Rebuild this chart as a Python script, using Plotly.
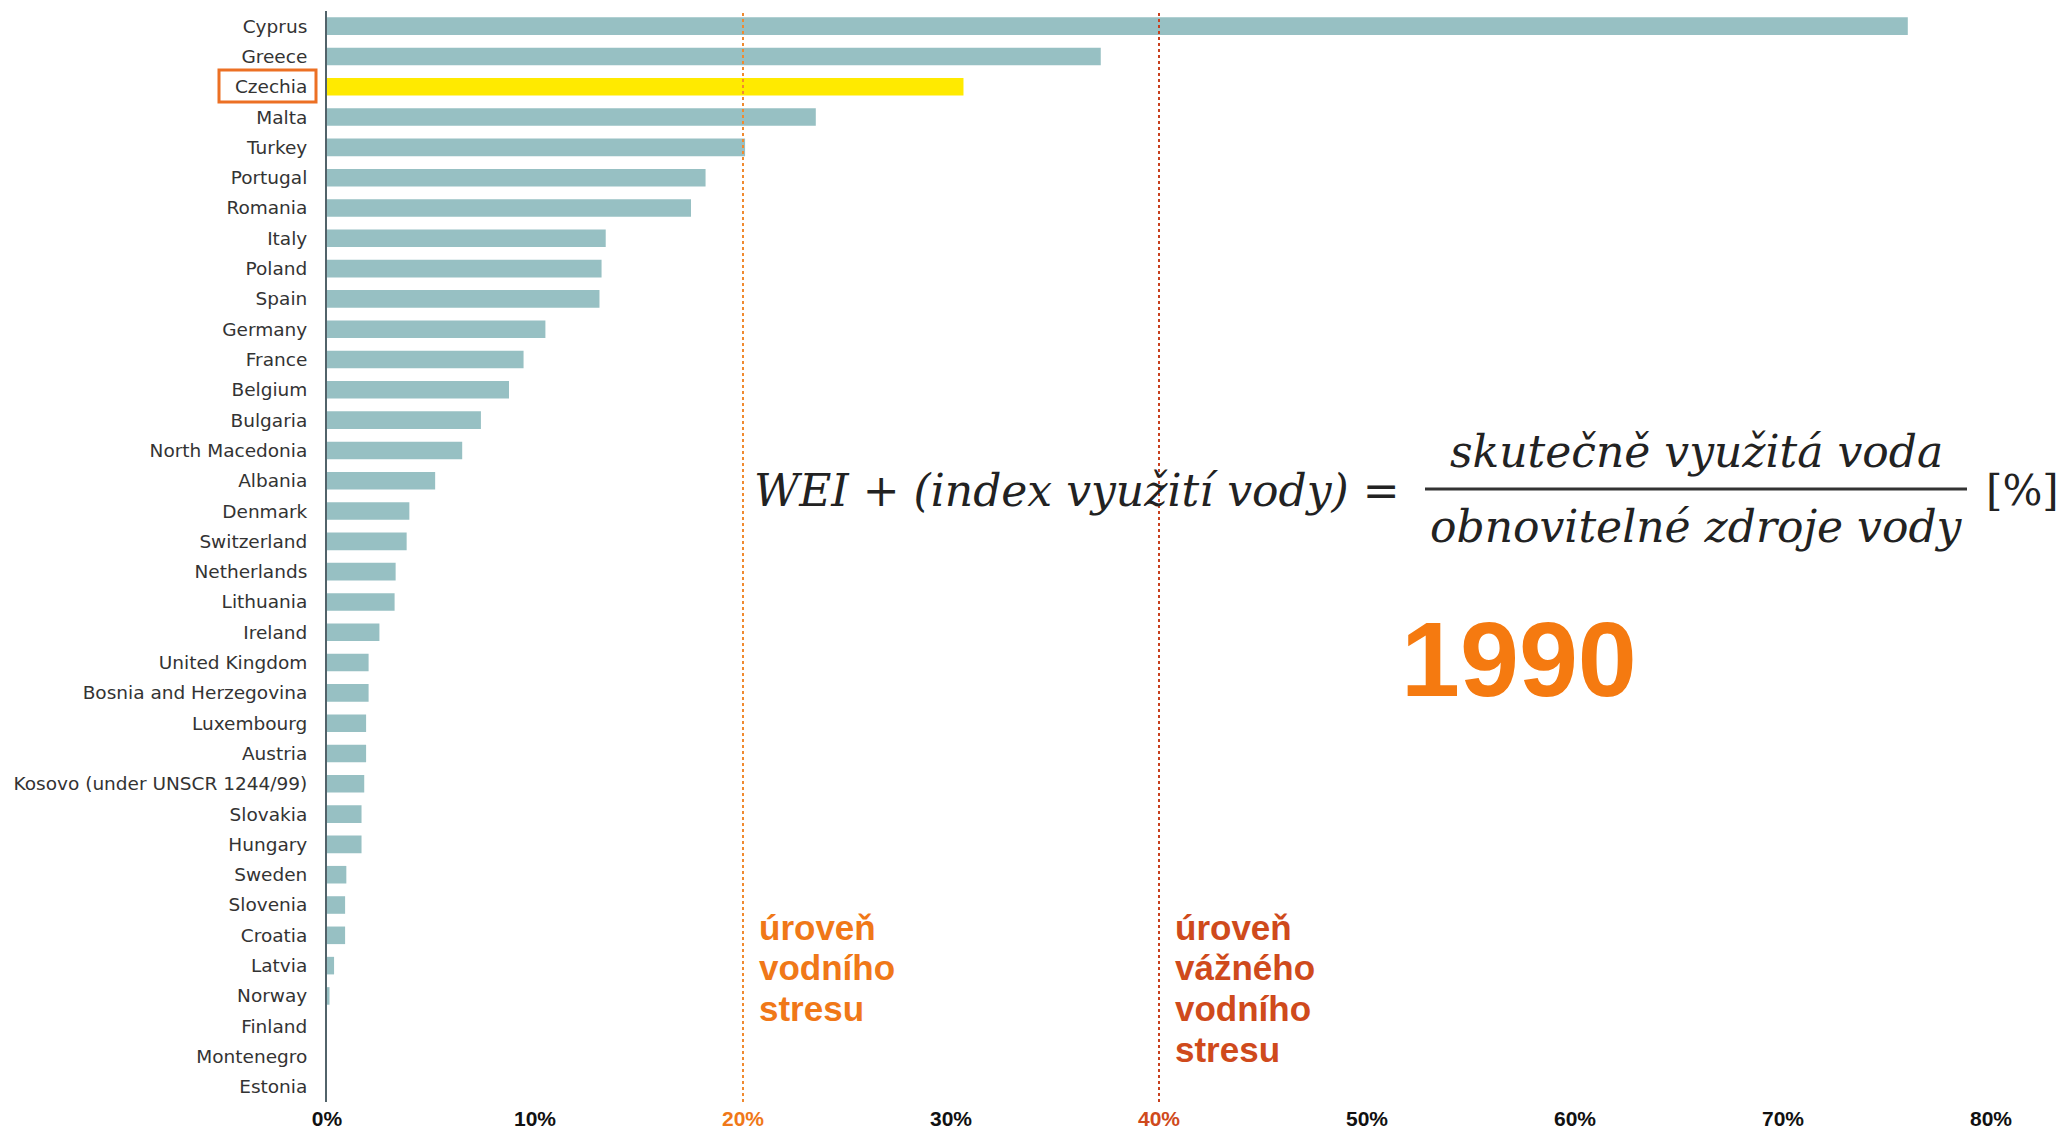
import plotly.graph_objects as go

# ---------------- data ----------------
countries = [
    "Cyprus", "Greece", "Czechia", "Malta", "Turkey", "Portugal", "Romania",
    "Italy", "Poland", "Spain", "Germany", "France", "Belgium", "Bulgaria",
    "North Macedonia", "Albania", "Denmark", "Switzerland", "Netherlands",
    "Lithuania", "Ireland", "United Kingdom", "Bosnia and Herzegovina",
    "Luxembourg", "Austria", "Kosovo (under UNSCR 1244/99)", "Slovakia",
    "Hungary", "Sweden", "Slovenia", "Croatia", "Latvia", "Norway",
    "Finland", "Montenegro", "Estonia",
]
wei = [
    76.0, 37.2, 30.6, 23.5, 20.1, 18.2, 17.5,
    13.4, 13.2, 13.1, 10.5, 9.45, 8.75, 7.4,
    6.5, 5.2, 3.96, 3.83, 3.3,
    3.25, 2.52, 2.0, 2.0,
    1.88, 1.88, 1.79, 1.66,
    1.66, 0.93, 0.87, 0.87, 0.34, 0.12,
    0.0, 0.0, 0.0,
]
highlight = "Czechia"
xtick_vals = [0, 10, 20, 30, 40, 50, 60, 70, 80]
xtick_labels = ["0%", "10%", "20%", "30%", "40%", "50%", "60%", "70%", "80%"]
thresholds = [20, 40]
threshold_lines = [["úroveň", "vodního", "stresu"],
                   ["úroveň", "vážného", "vodního", "stresu"]]
year_label = "1990"
formula_left = "WEI + (index využití vody) ="
formula_num = "skutečně využitá voda"
formula_den = "obnovitelné zdroje vody"
formula_unit = "[%]"

# ---------------- layout helpers ----------------
# page is 2068x1133; the html body adds an 8px offset
OFF = 8
PAGE_W, PAGE_H = 2068, 1133
W, H = PAGE_W - OFF, PAGE_H - OFF
PLOT_L, PLOT_T, PLOT_B = 327, 11, 1102          # page coordinates
PX_PER_PCT = 20.8
R = 35
L, T = PLOT_L - OFF, PLOT_T - OFF
B = H - (PLOT_B - OFF)
pw, ph = W - L - R, H - T - B
xmax = pw / PX_PER_PCT


def px(x):
    return (x - PLOT_L) / pw


def py(y):
    return (PLOT_B - y) / ph


BAR = "#97c0c3"
HL = "#ffea00"
ORANGE = "#f07818"
RED = "#cf4a1c"

colors = [HL if c == highlight else BAR for c in countries]

fig = go.Figure(go.Bar(
    x=wei, y=countries, orientation="h",
    marker=dict(color=colors, line=dict(width=0)),
    hoverinfo="x+y",
))

ticktext = []
for v, t in zip(xtick_vals, xtick_labels):
    if v == thresholds[0]:
        ticktext.append(f'<span style="color:{ORANGE}">{t}</span>')
    elif v == thresholds[1]:
        ticktext.append(f'<span style="color:{RED}">{t}</span>')
    else:
        ticktext.append(t)

shapes = []
for thr, col in zip(thresholds, ["#f08a30", "#c8401e"]):
    shapes.append(dict(type="line", xref="x", yref="paper", x0=thr, x1=thr,
                       y0=0, y1=1, line=dict(color=col, width=2, dash="dot")))
# box around highlighted label
shapes.append(dict(type="rect", xref="paper", yref="paper",
                   x0=px(219), x1=px(316), y0=py(102), y1=py(70),
                   line=dict(color="#ec7024", width=3)))
# fraction bar
shapes.append(dict(type="line", xref="paper", yref="paper",
                   x0=px(1425), x1=px(1967), y0=py(489), y1=py(489),
                   line=dict(color="#333333", width=3)))

annotations = []
LINE_Y0, LINE_STEP = 927, 40.7
for thr, lines, col in zip(thresholds, threshold_lines, [ORANGE, RED]):
    for i, ln in enumerate(lines):
        annotations.append(dict(
            x=thr, xref="x", xshift=14, xanchor="left",
            y=py(LINE_Y0 + i * LINE_STEP), yref="paper", yanchor="middle",
            text=f"<b>{ln}</b>", showarrow=False, align="left",
            font=dict(family="Liberation Sans", size=35, color=col)))

annotations.append(dict(
    x=px(1519), y=py(659), xref="paper", yref="paper",
    xanchor="center", yanchor="middle", showarrow=False,
    text=f"<b>{year_label}</b>",
    font=dict(family="Liberation Sans", size=106, color="#f57a10")))

serif = dict(family="DejaVu Serif", size=44, color="#222222")
annotations.append(dict(
    x=px(752), y=py(490), xref="paper", yref="paper",
    xanchor="left", yanchor="middle", showarrow=False,
    text=f"<i>{formula_left}</i>", font=serif))
annotations.append(dict(
    x=px(1696), y=py(452), xref="paper", yref="paper",
    xanchor="center", yanchor="middle", showarrow=False,
    text=f"<i>{formula_num}</i>", font=serif))
annotations.append(dict(
    x=px(1696), y=py(526), xref="paper", yref="paper",
    xanchor="center", yanchor="middle", showarrow=False,
    text=f"<i>{formula_den}</i>", font=serif))
annotations.append(dict(
    x=px(1984), y=py(490), xref="paper", yref="paper",
    xanchor="left", yanchor="middle", showarrow=False,
    text=formula_unit, font=dict(serif, size=42)))

fig.update_layout(
    width=W, height=H,
    margin=dict(l=L, r=R, t=T, b=B, pad=0, autoexpand=False),
    paper_bgcolor="white", plot_bgcolor="white",
    bargap=0.42,
    showlegend=False,
    shapes=shapes,
    annotations=annotations,
    xaxis=dict(
        range=[0, xmax], tickmode="array", tickvals=xtick_vals,
        ticktext=ticktext, showgrid=False, zeroline=False, showline=False,
        ticks="", ticklabelstandoff=2, automargin=False,
        tickfont=dict(family="Liberation Sans", size=21, color="#111111",
                      weight="bold"),
    ),
    yaxis=dict(
        categoryorder="array", categoryarray=countries, autorange="reversed",
        showgrid=False, zeroline=False, showline=True, automargin=False,
        linecolor="#52636a", linewidth=2, ticks="", ticklabelstandoff=14,
        tickfont=dict(family="DejaVu Sans", size=18.5, color="#333333"),
    ),
)

fig.write_html("out.html")
